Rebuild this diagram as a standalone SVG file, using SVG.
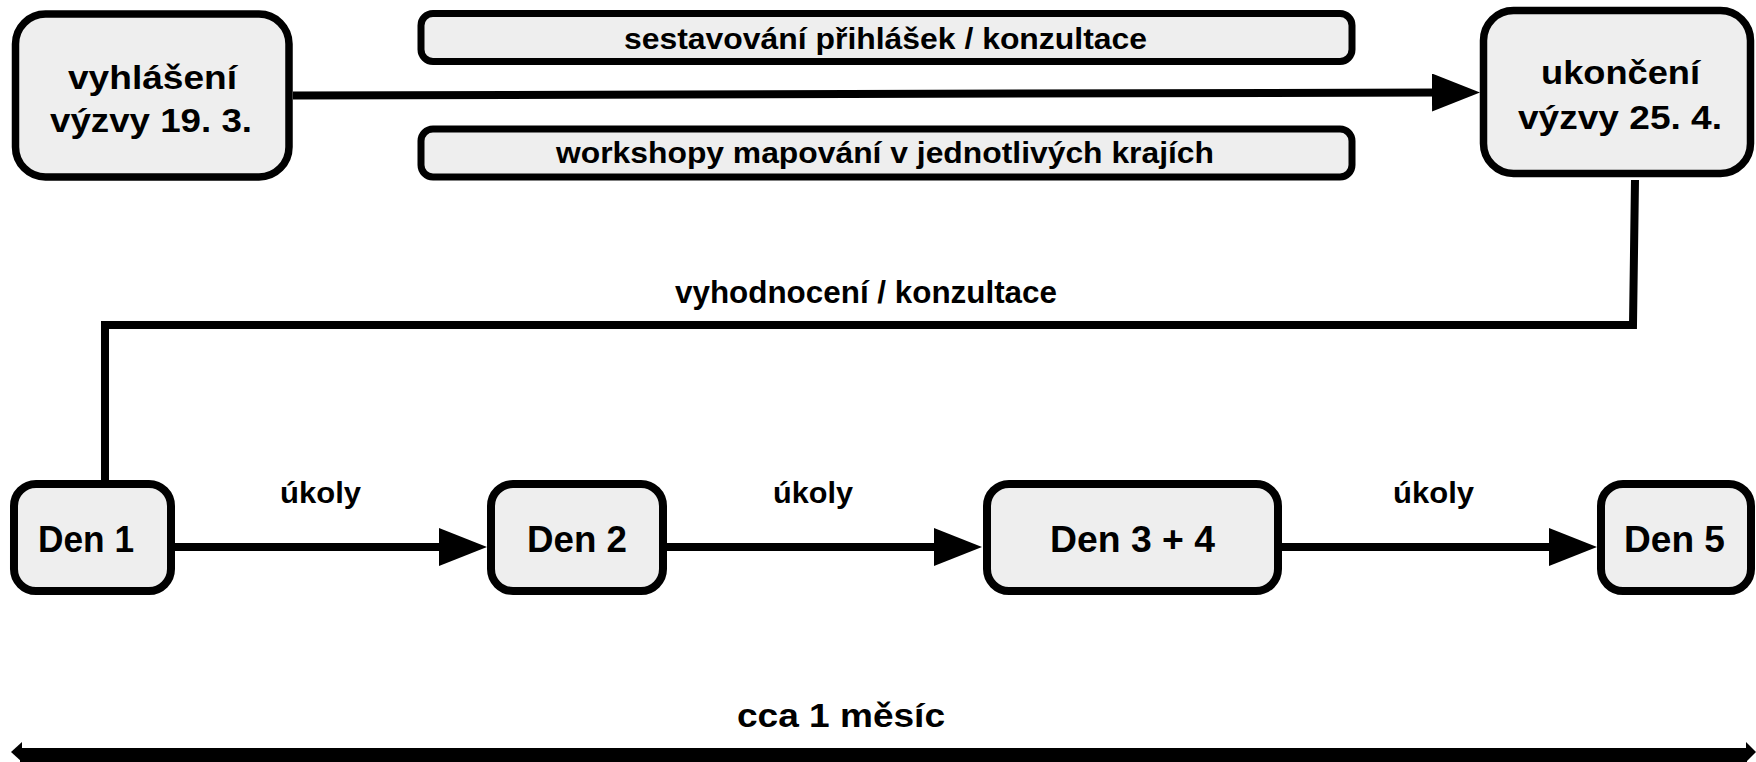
<svg xmlns="http://www.w3.org/2000/svg" width="1756" height="762" viewBox="0 0 1756 762">
<style>
.box{fill:#eeeeee;stroke:#000;stroke-width:7.5}
.bbox{fill:#eeeeee;stroke:#000;stroke-width:8}
.bar{fill:#eeeeee;stroke:#000;stroke-width:7}
.t{font-family:"Liberation Sans",Arial,sans-serif;font-weight:bold;fill:#000}
.conn{fill:none;stroke:#000;stroke-width:8}
</style>
<defs>
<marker id="ah" markerUnits="userSpaceOnUse" markerWidth="48" markerHeight="38" refX="8" refY="19" orient="auto">
<path d="M0,0 L48,19 L0,38 z" fill="#000"/>
</marker>
</defs>
<rect width="1756" height="762" fill="#fff"/>
<g id="connectors">
<path class="conn" d="M293,95.5 L1440,92.5" stroke-width="9" marker-end="url(#ah)"/>
<path class="conn" d="M1635,180 L1633,325 L105,325 L105,484"/>
<path class="conn" d="M175,547 L447,547" marker-end="url(#ah)"/>
<path class="conn" d="M667,547 L942,547" marker-end="url(#ah)"/>
<path class="conn" d="M1282,547 L1557,547" marker-end="url(#ah)"/>
<rect x="20" y="748" width="1727" height="14" fill="#000"/>
<polygon points="11,752 22,742 22,762" fill="#000"/>
<polygon points="1756,752 1746,742 1746,762" fill="#000"/>
<text class="t" x="675" y="303" font-size="31" textLength="382" lengthAdjust="spacingAndGlyphs">vyhodnocení / konzultace</text>
<text class="t" x="280" y="503" font-size="29" textLength="81" lengthAdjust="spacingAndGlyphs">úkoly</text>
<text class="t" x="773" y="503" font-size="29" textLength="80" lengthAdjust="spacingAndGlyphs">úkoly</text>
<text class="t" x="1393" y="503" font-size="29" textLength="81" lengthAdjust="spacingAndGlyphs">úkoly</text>
<text class="t" x="737" y="727" font-size="34" textLength="208" lengthAdjust="spacingAndGlyphs">cca 1 měsíc</text>
</g>
<g id="n-vyhlaseni">
<rect class="box" x="15.5" y="14" width="273.5" height="163" rx="30"/>
<text class="t" x="68" y="89" font-size="34" textLength="169" lengthAdjust="spacingAndGlyphs">vyhlášení</text>
<text class="t" x="50" y="132" font-size="34" textLength="202" lengthAdjust="spacingAndGlyphs">výzvy 19. 3.</text>
</g>
<g id="n-ukonceni">
<rect class="box" x="1483.5" y="10.5" width="267" height="163" rx="30"/>
<text class="t" x="1541" y="84" font-size="34" textLength="159" lengthAdjust="spacingAndGlyphs">ukončení</text>
<text class="t" x="1518" y="129" font-size="34" textLength="204" lengthAdjust="spacingAndGlyphs">výzvy 25. 4.</text>
</g>
<g id="n-sestavovani">
<rect class="bar" x="421" y="13.5" width="931" height="48" rx="12"/>
<text class="t" x="624" y="49" font-size="30" textLength="523" lengthAdjust="spacingAndGlyphs">sestavování přihlášek / konzultace</text>
</g>
<g id="n-workshopy">
<rect class="bar" x="421" y="129" width="931" height="48" rx="12"/>
<text class="t" x="556" y="163" font-size="30" textLength="658" lengthAdjust="spacingAndGlyphs">workshopy mapování v jednotlivých krajích</text>
</g>
<g id="n-den1">
<rect class="bbox" x="14" y="484" width="157" height="107" rx="22"/>
<text class="t" x="38" y="552" font-size="37" textLength="96" lengthAdjust="spacingAndGlyphs">Den 1</text>
</g>
<g id="n-den2">
<rect class="bbox" x="491" y="484" width="172" height="107" rx="22"/>
<text class="t" x="527" y="552" font-size="37" textLength="100" lengthAdjust="spacingAndGlyphs">Den 2</text>
</g>
<g id="n-den34">
<rect class="bbox" x="987" y="484" width="291" height="107" rx="22"/>
<text class="t" x="1050" y="552" font-size="37" textLength="165" lengthAdjust="spacingAndGlyphs">Den 3 + 4</text>
</g>
<g id="n-den5">
<rect class="bbox" x="1601" y="484" width="150" height="107" rx="22"/>
<text class="t" x="1624" y="552" font-size="37" textLength="101" lengthAdjust="spacingAndGlyphs">Den 5</text>
</g>
</svg>
